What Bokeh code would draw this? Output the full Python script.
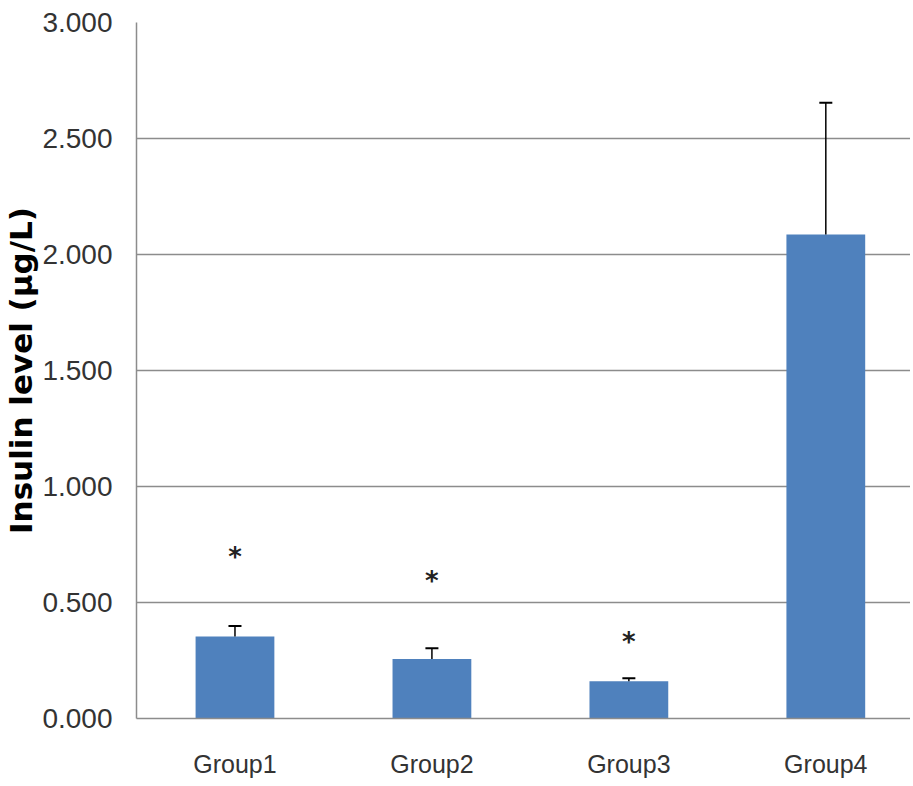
from bokeh.plotting import figure
from bokeh.models import Range1d, FixedTicker, NumeralTickFormatter
from bokeh.core.properties import value
from bokeh.embed import file_html
from bokeh.resources import INLINE

groups = ["Group1", "Group2", "Group3", "Group4"]
insulin = [0.353, 0.257, 0.161, 2.086]
err_upper = [0.399, 0.303, 0.174, 2.654]
star_y = [0.72, 0.62, 0.355]
star_groups = [0, 1, 2]
y_ticks = [0.0, 0.5, 1.0, 1.5, 2.0, 2.5, 3.0]

xs = list(range(len(groups)))

p = figure(width=910, height=780, output_backend="svg", toolbar_location=None,
           x_range=Range1d(-0.5, 3.43), y_range=Range1d(0, 3.0),
           min_border_left=133, min_border_top=22, min_border_bottom=60,
           min_border_right=0)
p.outline_line_color = None
p.background_fill_color = "white"

p.vbar(x=xs, top=insulin, width=0.4, fill_color="#4F81BD", line_color=None)
p.segment(x0=xs, y0=insulin, x1=xs, y1=err_upper, line_color="black", line_width=1.5)
p.scatter(x=xs, y=err_upper, marker="dash", size=13, line_color="black", line_width=2)
p.text(x=star_groups, y=star_y, text=["*"] * len(star_y), text_align="center",
       text_baseline="middle", text_font=value("DejaVu Sans"), text_font_style="bold",
       text_font_size="26px", text_color="#222222", y_offset=6)

p.yaxis.ticker = FixedTicker(ticks=y_ticks)
p.yaxis.formatter = NumeralTickFormatter(format="0.000")
p.yaxis.major_tick_line_color = None
p.yaxis.minor_tick_line_color = None
p.yaxis.axis_line_color = "#8c8c8c"
p.yaxis.axis_line_width = 1.5
p.yaxis.major_label_text_font = "Liberation Sans"
p.yaxis.major_label_text_font_size = "28px"
p.yaxis.major_label_text_color = "#333333"
p.yaxis.major_label_standoff = 18
p.yaxis.axis_label = "Insulin level (µg/L)"
p.yaxis.axis_label_text_font = "DejaVu Sans"
p.yaxis.axis_label_text_font_style = "bold"
p.yaxis.axis_label_text_font_size = "31px"
p.yaxis.axis_label_text_color = "black"
p.yaxis.axis_label_standoff = 0

p.xaxis.ticker = FixedTicker(ticks=xs)
p.xaxis.major_label_overrides = {i: g for i, g in enumerate(groups)}
p.xaxis.major_tick_line_color = None
p.xaxis.minor_tick_line_color = None
p.xaxis.axis_line_color = "#8c8c8c"
p.xaxis.axis_line_width = 1.5
p.xaxis.major_label_text_font = "Liberation Sans"
p.xaxis.major_label_text_font_size = "25px"
p.xaxis.major_label_text_color = "#333333"
p.xaxis.major_label_standoff = 25

p.xgrid.grid_line_color = None
p.ygrid.ticker = FixedTicker(ticks=y_ticks)
p.ygrid.grid_line_color = "#8c8c8c"
p.ygrid.grid_line_width = 1.5

open("out.html", "w").write(file_html(p, INLINE))
